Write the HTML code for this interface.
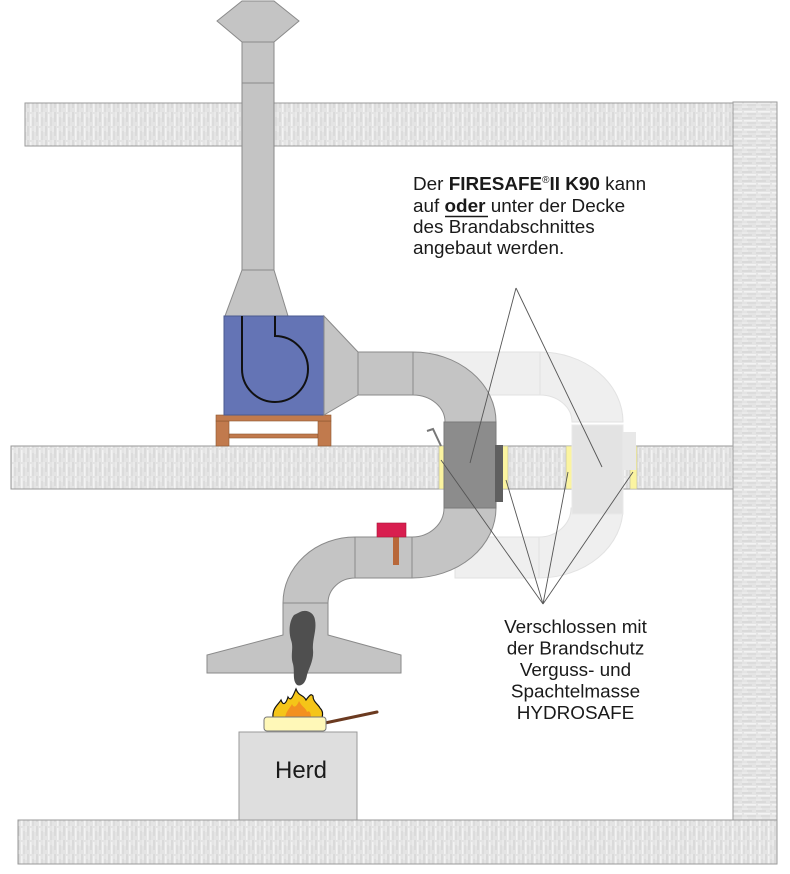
<!DOCTYPE html>
<html><head><meta charset="utf-8"><style>
html,body{margin:0;padding:0;background:#fff;}
svg{display:block;}
text{font-family:"Liberation Sans",Arial,sans-serif;fill:#1a1a1a;}
</style></head><body>
<svg width="790" height="874" viewBox="0 0 790 874" xmlns="http://www.w3.org/2000/svg">
<defs>
<pattern id="cv" width="9" height="14" patternUnits="userSpaceOnUse">
<rect width="9" height="14" fill="#e4e4e4"/>
<rect x="0.5" y="0" width="1" height="10" fill="#cfcfcf"/>
<rect x="3" y="2" width="1.5" height="12" fill="#f3f3f3"/>
<rect x="5.5" y="5" width="1" height="9" fill="#d5d5d5"/>
<rect x="7.5" y="0" width="1" height="6" fill="#efefef"/>
</pattern>
<pattern id="ch" width="14" height="9" patternUnits="userSpaceOnUse">
<rect width="14" height="9" fill="#e4e4e4"/>
<rect y="0.5" x="0" height="1" width="10" fill="#cfcfcf"/>
<rect y="3" x="2" height="1.5" width="12" fill="#f3f3f3"/>
<rect y="5.5" x="5" height="1" width="9" fill="#d5d5d5"/>
<rect y="7.5" x="0" height="1" width="6" fill="#efefef"/>
</pattern>
</defs>

<!-- slabs and wall -->
<rect x="25" y="103" width="708" height="43" fill="url(#cv)" stroke="#9a9a9a" stroke-width="1"/>
<rect x="733" y="102" width="44" height="718" fill="url(#ch)" stroke="#9a9a9a" stroke-width="1"/>
<rect x="18" y="820" width="759" height="44" fill="url(#cv)" stroke="#9a9a9a" stroke-width="1"/>
<rect x="11" y="446" width="722" height="43" fill="url(#cv)" stroke="#9a9a9a" stroke-width="1"/>

<!-- chimney -->
<polygon points="242,1 274,1 299,21 274,42 242,42 217,21" fill="#c4c4c4" stroke="#8a8a8a"/>
<rect x="242" y="42" width="32" height="228" fill="#c4c4c4" stroke="#8a8a8a"/>
<line x1="242" y1="83" x2="274" y2="83" stroke="#8a8a8a"/>
<polygon points="242,270 274,270 288,316 225,316" fill="#c4c4c4" stroke="#8a8a8a"/>

<!-- pallet -->
<rect x="229" y="434" width="89" height="4" fill="#c17a4d" stroke="#8c5630" stroke-width="0.6"/>
<rect x="216" y="421" width="13" height="25" fill="#c17a4d" stroke="#8c5630" stroke-width="0.6"/>
<rect x="318" y="421" width="13" height="25" fill="#c17a4d" stroke="#8c5630" stroke-width="0.6"/>
<rect x="216" y="415" width="115" height="6" fill="#c17a4d" stroke="#8c5630" stroke-width="0.6"/>

<!-- fan box -->
<rect x="224" y="316" width="100" height="99" fill="#6474b5" stroke="#4a5a90"/>
<path d="M242,316 V369 A33,33 0 1 0 275,336 V316" fill="none" stroke="#111" stroke-width="2"/>

<!-- ghost duct -->
<g fill="#efefef" stroke="#e2e2e2" stroke-width="1">
<rect x="430" y="352" width="110" height="43"/>
<path d="M540,352 A83,70 0 0 1 623,422 L572,422 A32,27 0 0 0 540,395 Z"/>
<path d="M571,508 L623,508 A84,70 0 0 1 539,578 L539,537 A32,29 0 0 0 571,508 Z"/>
<rect x="455" y="537" width="84" height="41"/>
</g>

<!-- transition + ducts -->
<polygon points="324,316 358,352 358,395 324,415" fill="#c4c4c4" stroke="#8a8a8a"/>
<rect x="358" y="352" width="55" height="43" fill="#c4c4c4" stroke="#8a8a8a"/>
<path d="M413,352 A83,70 0 0 1 496,422 L445,422 A32,27 0 0 0 413,395 Z" fill="#c4c4c4" stroke="#8a8a8a"/>
<path d="M444,508 L496,508 A84,70 0 0 1 412,578 L412,537 A32,29 0 0 0 444,508 Z" fill="#c4c4c4" stroke="#8a8a8a"/>
<rect x="355" y="537" width="57" height="41" fill="#c4c4c4" stroke="#8a8a8a"/>
<path d="M355,537 A72,66 0 0 0 283,603 L328,603 A27,25 0 0 1 355,578 Z" fill="#c4c4c4" stroke="#8a8a8a"/>
<polygon points="283,603 328,603 328,635 401,655 401,673 207,673 207,655 283,635" fill="#c4c4c4" stroke="#8a8a8a"/>

<!-- yellow seals -->
<g fill="#fbf4a0" stroke="#b5b5a0" stroke-width="0.6">
<rect x="439" y="446" width="6" height="43"/>
<rect x="502" y="446" width="6" height="43"/>
<rect x="566" y="446" width="6" height="43"/>
<rect x="630" y="446" width="7" height="43"/>
</g>

<!-- dampers -->
<rect x="444" y="422" width="52" height="86" fill="#8c8c8c" stroke="#7a7a7a"/>
<rect x="495" y="445" width="8" height="57" fill="#5f5f5f"/>
<polyline points="427,431 433,429 441,446" fill="none" stroke="#777" stroke-width="2"/>
<rect x="572" y="425" width="51" height="89" fill="#e3e3e3" stroke="#e8e8e8"/>
<rect x="623" y="432" width="13" height="38" fill="#e8e8e8"/>

<!-- red device -->
<rect x="393" y="537" width="6" height="28" fill="#b8683a"/>
<rect x="377" y="523" width="29" height="14" fill="#d81e4f" stroke="#a81538" stroke-width="0.6"/>

<!-- smoke -->
<path d="M300,612 C306,609 314,612 315,620 C317,630 312,640 313,650 C314,660 309,668 307,675 C306,682 302,687 297,685 C292,680 295,672 293,664 C290,655 294,648 291,640 C288,630 290,620 294,615 Z" fill="#4f4f4f"/>

<!-- herd -->
<rect x="239" y="732" width="118" height="88" fill="#dedede" stroke="#999"/>
<text x="301" y="778" font-size="24" text-anchor="middle">Herd</text>

<!-- fire and pan -->
<path d="M273,718 C272,708 278,705 281,700 C283,706 286,704 288,697 C291,702 293,696 296,689 C299,697 303,694 306,700 C309,696 311,693 313,696 C313,702 318,704 320,708 C323,711 323,714 322,718 Z" fill="#f5c518" stroke="#111" stroke-width="1.2"/>
<path d="M285,718 C286,711 290,708 292,704 C294,709 297,706 299,701 C302,707 306,708 307,712 C309,710 311,712 311,718 Z" fill="#f39020"/>
<line x1="325" y1="723" x2="377" y2="712" stroke="#6b3a20" stroke-width="3" stroke-linecap="round"/>
<rect x="264" y="717" width="62" height="14" rx="3" fill="#fff8b8" stroke="#777"/>

<!-- leader lines -->
<g stroke="#555" stroke-width="0.9">
<line x1="516" y1="288" x2="470" y2="463"/>
<line x1="516" y1="288" x2="602" y2="467"/>
<line x1="543" y1="604" x2="441" y2="460"/>
<line x1="543" y1="604" x2="506" y2="480"/>
<line x1="543" y1="604" x2="568" y2="472"/>
<line x1="543" y1="604" x2="633" y2="472"/>
</g>

<!-- text block 1 -->
<text x="413" y="190" font-size="18.9">Der <tspan font-weight="bold">FIRESAFE</tspan><tspan font-size="10" dy="-7">®</tspan><tspan font-weight="bold" dy="7">II K90</tspan> kann</text>
<text x="413" y="212" font-size="18.9">auf <tspan font-weight="bold">oder</tspan> unter der Decke</text>
<line x1="445" y1="216.5" x2="488" y2="216.5" stroke="#1a1a1a" stroke-width="1.6"/>
<text x="413" y="233" font-size="18.9">des Brandabschnittes</text>
<text x="413" y="254" font-size="18.9">angebaut werden.</text>

<!-- text block 2 -->
<g font-size="18.9" text-anchor="middle">
<text x="575.5" y="633">Verschlossen mit</text>
<text x="575.5" y="654.5">der Brandschutz</text>
<text x="575.5" y="676">Verguss- und</text>
<text x="575.5" y="697.5">Spachtelmasse</text>
<text x="575.5" y="719">HYDROSAFE</text>
</g>
</svg>
</body></html>
